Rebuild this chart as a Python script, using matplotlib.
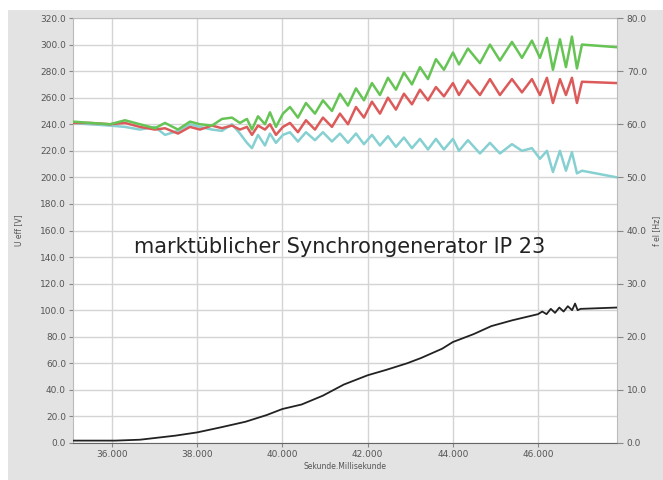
import matplotlib
matplotlib.use("Agg")
import matplotlib.pyplot as plt
from matplotlib.patches import Rectangle
from matplotlib.ticker import FuncFormatter, MultipleLocator

# ---- data (time in ms) ----
# phase voltages (left axis, V)
t_volt = [35085, 35484, 35953, 36305, 36657, 37009, 37244, 37549, 37831, 38065,
          38347, 38582, 38816, 39004, 39168, 39286, 39427, 39591, 39708, 39849,
          40013, 40178, 40365, 40553, 40764, 40952, 41163, 41351, 41539, 41727,
          41914, 42102, 42290, 42478, 42665, 42853, 43041, 43229, 43417, 43604,
          43792, 44003, 44144, 44355, 44637, 44872, 45106, 45388, 45623, 45857,
          46045, 46209, 46350, 46515, 46656, 46796, 46914, 47031, 47854]
u_green = [242, 241, 240, 243, 240, 237, 241, 236, 242, 240,
           239, 244, 245, 241, 244, 236, 246, 240, 249, 238,
           248, 253, 245, 256, 248, 258, 250, 263, 254, 267,
           258, 271, 262, 275, 266, 279, 270, 283, 274, 289,
           281, 294, 285, 297, 286, 300, 288, 302, 290, 303,
           290, 305, 281, 304, 283, 306, 282, 300, 298]
u_red = [241, 241, 240, 241, 238, 236, 237, 233, 238, 236,
         239, 237, 239, 236, 238, 232, 239, 236, 240, 232,
         238, 241, 234, 243, 236, 245, 238, 248, 240, 253,
         245, 257, 248, 260, 251, 263, 255, 266, 258, 268,
         261, 271, 262, 273, 262, 274, 262, 274, 264, 274,
         262, 275, 256, 274, 262, 275, 256, 272, 271]
u_cyan = [241, 240, 239, 238, 236, 238, 232, 235, 240, 238,
          236, 235, 240, 233, 226, 222, 232, 224, 233, 226,
          232, 234, 227, 234, 228, 234, 227, 233, 226, 233,
          225, 232, 224, 231, 223, 230, 222, 229, 221, 229,
          221, 229, 220, 228, 218, 226, 218, 225, 220, 222,
          214, 220, 204, 220, 205, 219, 203, 205, 200]

# electrical frequency (right axis, Hz)
t_freq = [35085, 35500, 36082, 36660, 37484, 38003, 38555, 39133, 39627, 40000,
          40452, 40947, 41441, 42001, 42430, 42925, 43255, 43750, 44000, 44490,
          44903, 45398, 46000, 46100, 46200, 46300, 46400, 46500, 46600, 46700,
          46800, 46870, 46930, 47000, 47854]
f_el = [0.45, 0.45, 0.45, 0.62, 1.38, 2.0, 2.95, 4.0, 5.25, 6.4,
        7.25, 8.9, 11.0, 12.75, 13.75, 15.0, 16.0, 17.75, 19.0, 20.5,
        22.0, 23.1, 24.25, 24.75, 24.25, 25.25, 24.5, 25.5, 24.75, 25.75,
        25.0, 26.25, 25.0, 25.25, 25.5]

x_ticks = [36000, 38000, 40000, 42000, 44000, 46000]

fig = plt.figure(figsize=(6.63, 4.80), dpi=100, facecolor="white")
fig.patches.append(Rectangle((8 / 663, 0), 1, 470 / 480, transform=fig.transFigure,
                             facecolor="#e3e3e3", edgecolor="none", zorder=-10))

ax = fig.add_axes([73 / 663, 37 / 480, 544 / 663, 425 / 480])
ax.set_facecolor("white")
ax.set_xlim(35085, 47854)
ax.set_ylim(0, 320)
ax.yaxis.set_major_locator(MultipleLocator(20))
ax.set_xticks(x_ticks)
ax.xaxis.set_major_formatter(FuncFormatter(lambda v, p: f"{v/1000:.3f}"))
ax.yaxis.set_major_formatter(FuncFormatter(lambda v, p: f"{v:.1f}"))
ax.grid(True, color="#d4d4d4", linewidth=1.0)
ax.set_axisbelow(True)
for s in ax.spines.values():
    s.set_color("#bbbbbb")
    s.set_linewidth(0.8)
ax.spines["bottom"].set_color("#666666")
ax.tick_params(axis="both", labelsize=6.5, colors="#888888", labelcolor="#555555",
               length=3, width=0.8, pad=2)

ax.plot(t_volt, u_cyan, color="#86d0d2", lw=1.8, zorder=3)
ax.plot(t_volt, u_red, color="#dd5a5a", lw=1.8, zorder=4)
ax.plot(t_volt, u_green, color="#66c455", lw=1.8, zorder=5)

ax2 = ax.twinx()
ax2.set_ylim(0, 80)
ax2.yaxis.set_major_locator(MultipleLocator(10))
ax2.yaxis.set_major_formatter(FuncFormatter(lambda v, p: f"{v:.1f}"))
for s in ax2.spines.values():
    s.set_visible(False)
ax2.tick_params(axis="y", labelsize=6.5, colors="#888888", labelcolor="#555555",
                length=4, width=0.8, pad=3)
ax2.plot(t_freq, f_el, color="#222222", lw=1.3, zorder=6)

ax.set_xlabel("Sekunde.Millisekunde", fontsize=5.5, color="#555555", labelpad=2)
ax.set_ylabel("U eff [V]", fontsize=5.5, color="#555555", labelpad=12)
ax2.set_ylabel("f el [Hz]", fontsize=5.5, color="#555555", labelpad=4)

fig.text(340 / 663, 1 - 247 / 480, "marktüblicher Synchrongenerator IP 23",
         fontsize=15, color="#222222", ha="center", va="center", family="DejaVu Sans")

fig.savefig("out.png", dpi=100, facecolor=fig.get_facecolor())
